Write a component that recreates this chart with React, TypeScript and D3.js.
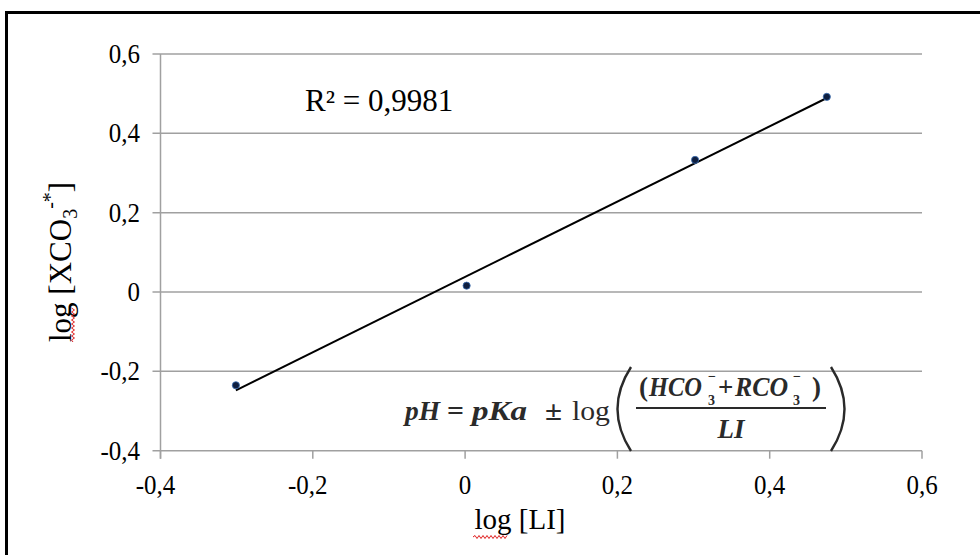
import React from "react";
import * as d3 from "d3";

const logLI = [-0.301, 0.002, 0.302, 0.475];
const logXCO3 = [-0.235, 0.016, 0.333, 0.492];
const xTickValues = [-0.4, -0.2, 0, 0.2, 0.4, 0.6];
const yTickValues = [-0.4, -0.2, 0, 0.2, 0.4, 0.6];
const r2Label = "R² = 0,9981";

const W = 980;
const H = 555;
const plotLeft = 160.5;
const plotRight = 922;
const plotTop = 54;
const plotBottom = 450.7;

const fmt = (v: number) => (Math.abs(v) < 1e-9 ? "0" : d3.format(".1f")(v).replace(".", ",").replace("−", "-"));

function wavy(x0: number, x1: number, y: number) {
  let d = `M${x0},${y}`;
  let up = true;
  for (let x = x0 + 2; x <= x1; x += 2) {
    d += ` L${x},${y + (up ? -1.5 : 1.5)}`;
    up = !up;
  }
  return d;
}

export default function App() {
  const x = d3.scaleLinear().domain([-0.4, 0.6]).range([plotLeft, plotRight]);
  const y = d3.scaleLinear().domain([-0.4, 0.6]).range([plotBottom, plotTop]);

  const n = logLI.length;
  const mx = d3.mean(logLI) as number;
  const my = d3.mean(logXCO3) as number;
  let sxy = 0, sxx = 0;
  for (let i = 0; i < n; i++) {
    sxy += (logLI[i] - mx) * (logXCO3[i] - my);
    sxx += (logLI[i] - mx) ** 2;
  }
  const slope = sxy / sxx;
  const intercept = my - slope * mx;
  const xmin = d3.min(logLI) as number;
  const xmax = d3.max(logLI) as number;
  const trend: [number, number][] = [
    [xmin, intercept + slope * xmin],
    [xmax, intercept + slope * xmax],
  ];
  const line = d3.line<[number, number]>().x((d) => x(d[0])).y((d) => y(d[1]));

  const serif = "'Liberation Serif', 'Times New Roman', serif";
  const grid = "#a0a0a0";
  const eq = "#2a2a2a";
  const fit = { lengthAdjust: "spacingAndGlyphs" as const };

  return (
    <div style={{ position: "fixed", left: 0, top: 0, width: W, height: H, background: "#fff" }}>
      <svg width={W} height={H} style={{ display: "block" }}>
        <rect x={0} y={0} width={W} height={H} fill="#fff" />
        {/* outer frame */}
        <rect x={6.5} y={12.5} width={1000} height={600} fill="none" stroke="#000" strokeWidth={3} />

        {/* gridlines */}
        {yTickValues.filter((v) => v > -0.4).map((v) => (
          <line key={"g" + v} x1={plotLeft - 8} x2={plotRight} y1={y(v)} y2={y(v)} stroke={grid} strokeWidth={1.5} />
        ))}
        {/* x axis */}
        <line x1={plotLeft - 8} x2={plotRight} y1={plotBottom} y2={plotBottom} stroke={grid} strokeWidth={1.5} />
        {xTickValues.map((v) => (
          <line key={"xt" + v} x1={x(v)} x2={x(v)} y1={plotBottom} y2={plotBottom + 8} stroke={grid} strokeWidth={1.5} />
        ))}
        {/* y axis */}
        <line x1={plotLeft} x2={plotLeft} y1={plotTop} y2={plotBottom + 8} stroke={grid} strokeWidth={1.5} />

        {/* tick labels */}
        {xTickValues.map((v) => (
          <text
            key={"xl" + v}
            transform={`translate(${x(v) - (v < 0 ? 5 : 0)},494) scale(1,1.12)`}
            textAnchor="middle"
            fontFamily={serif}
            fontSize={25}
            fill="#000"
          >
            {fmt(v)}
          </text>
        ))}
        {yTickValues.map((v) => (
          <text
            key={"yl" + v}
            transform={`translate(140,${y(v) + 9}) scale(1,1.12)`}
            textAnchor="end"
            fontFamily={serif}
            fontSize={25}
            fill="#000"
          >
            {fmt(v)}
          </text>
        ))}

        {/* axis titles */}
        <text x={520} y={529} textAnchor="middle" fontFamily={serif} fontSize={29} fill="#000">
          log [LI]
        </text>
        <path d={wavy(473, 508, 537)} fill="none" stroke="#e02020" strokeWidth={1} />
        <g transform="translate(71,342) rotate(-90)">
          <text x={0} y={0} textAnchor="start" fontFamily={serif} fontSize={31} fill="#000">
            log [XCO<tspan fontSize={20} dy={6}>3</tspan><tspan fontSize={20} dy={-20}>-*</tspan><tspan dy={14}>]</tspan>
          </text>
          <path d={wavy(0, 34, 2)} fill="none" stroke="#e02020" strokeWidth={1} />
        </g>

        {/* trendline */}
        <path d={line(trend) as string} fill="none" stroke="#000" strokeWidth={2} />

        {/* points */}
        {logLI.map((v, i) => (
          <circle key={"p" + i} cx={x(v)} cy={y(logXCO3[i])} r={3.6} fill="#0f1f40" stroke="#3a6fb5" strokeWidth={0.8} />
        ))}

        {/* R² */}
        <text x={305} y={111} fontFamily={serif} fontSize={31} fill="#000">
          {r2Label}
        </text>

        {/* equation */}
        <g fontFamily={serif} fill={eq} fontWeight="bold" fontSize={27}>
          <text x={405} y={420} fontStyle="italic" textLength={35} {...fit}>pH</text>
          <text x={447} y={420} textLength={17} {...fit}>=</text>
          <text x={472} y={420} fontStyle="italic" textLength={55} {...fit}>pKa</text>
          <text x={545} y={420} textLength={17} {...fit}>±</text>
          <text x={572} y={420} fontWeight="normal" textLength={38} {...fit}>log</text>
          <path d="M631,367 Q604,409 631,451" fill="none" stroke={eq} strokeWidth={2.4} />
          <text x={639} y={396}>(</text>
          <text x={649} y={396} fontStyle="italic" textLength={53} {...fit}>HCO</text>
          <text x={708} y={405} fontSize={14}>3</text>
          <text x={708} y={381} fontSize={14}>−</text>
          <text x={718} y={396}>+</text>
          <text x={735} y={396} fontStyle="italic" textLength={53} {...fit}>RCO</text>
          <text x={793} y={405} fontSize={14}>3</text>
          <text x={793} y={381} fontSize={14}>−</text>
          <text x={812} y={396}>)</text>
          <line x1={636} x2={826} y1={408} y2={408} stroke={eq} strokeWidth={1.8} />
          <text x={731} y={438} textAnchor="middle" fontStyle="italic">LI</text>
          <path d="M831,367 Q858,409 831,451" fill="none" stroke={eq} strokeWidth={2.4} />
        </g>
      </svg>
    </div>
  );
}
